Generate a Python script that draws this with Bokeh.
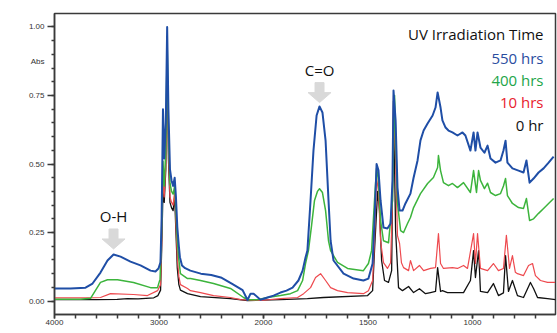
import numpy as np
from bokeh.plotting import figure
from bokeh.models import Range1d, FixedTicker, LinearAxis
from bokeh.core.properties import value
from bokeh.embed import file_html
from bokeh.resources import INLINE

# ---------------- data (wavenumber cm-1, absorbance) ----------------
wn_550 = [4000, 3847, 3703, 3636, 3560, 3493, 3435, 3368, 3273, 3177, 3081, 3034, 3005, 2986,
          2975, 2962, 2950, 2935, 2922, 2910, 2895, 2880, 2865, 2850, 2838, 2825, 2810, 2800, 2780,
          2750, 2700, 2600, 2500, 2400, 2300, 2200, 2153, 2124, 2095, 2029, 1981, 1952, 1919, 1890,
          1861, 1833, 1813, 1799, 1790, 1775, 1761, 1746, 1732, 1718, 1703, 1689, 1679, 1665, 1617,
          1569, 1522, 1498, 1478, 1469, 1459, 1450, 1440, 1426, 1407, 1392, 1383, 1378, 1368, 1359,
          1349, 1335, 1321, 1297, 1282, 1263, 1249, 1234, 1215, 1191, 1177, 1167, 1153, 1144, 1129,
          1115, 1096, 1072, 1048, 1034, 1010, 995, 986, 976, 962, 943, 928, 914, 890, 866, 852, 842,
          833, 809, 780, 756, 742, 727, 708, 684, 660, 636, 612]
ab_550 = [0.046, 0.046, 0.049, 0.064, 0.104, 0.148, 0.170, 0.162, 0.144, 0.130, 0.111, 0.108, 0.119, 0.141,
          0.30, 0.70, 0.52, 0.65, 1.00, 0.70, 0.48, 0.44, 0.42, 0.45, 0.38, 0.27, 0.20, 0.16, 0.13,
          0.12, 0.111, 0.100, 0.095, 0.085, 0.063, 0.040, 0.004, 0.027, 0.027, 0.005, 0.013, 0.020, 0.031, 0.038,
          0.049, 0.075, 0.111, 0.159, 0.184, 0.367, 0.549, 0.677, 0.710, 0.688, 0.585, 0.367, 0.220, 0.148, 0.100,
          0.082, 0.075, 0.082, 0.137, 0.294, 0.500, 0.477, 0.367, 0.268, 0.265, 0.283, 0.440, 0.768, 0.659, 0.414,
          0.330, 0.330, 0.356, 0.392, 0.450, 0.513, 0.586, 0.622, 0.648, 0.677, 0.706, 0.761, 0.706, 0.659, 0.633,
          0.622, 0.615, 0.604, 0.615, 0.604, 0.549, 0.615, 0.549, 0.615, 0.560, 0.541, 0.567, 0.520, 0.505, 0.513, 0.549, 0.585,
          0.505, 0.484, 0.476, 0.469, 0.513, 0.432, 0.447, 0.469, 0.484, 0.505, 0.527]

wn_400 = [4000, 3750, 3655, 3560, 3493, 3397, 3244, 3081, 3014, 2990,
          2975, 2962, 2950, 2935, 2922, 2910, 2895, 2880, 2865, 2850, 2838, 2825, 2810, 2795,
          2727, 2699, 2603, 2478, 2316, 2191, 2153, 2057, 1981, 1919, 1871, 1837, 1813, 1799, 1785,
          1770, 1756, 1742, 1732, 1718, 1703, 1689, 1679, 1646, 1598, 1522, 1498, 1483, 1469, 1459,
          1450, 1440, 1426, 1402, 1383, 1373, 1359, 1344, 1330, 1311, 1297, 1282, 1249, 1215, 1187,
          1167, 1163, 1153, 1139, 1115, 1096, 1072, 1043, 1010, 995, 981, 971, 962, 943, 928, 914,
          890, 866, 852, 842, 833, 809, 780, 756, 742, 727, 708, 684, 660, 636, 612]
ab_400 = [0.007, 0.007, 0.010, 0.068, 0.078, 0.078, 0.068, 0.049, 0.049, 0.080,
          0.25, 0.51, 0.42, 0.55, 0.95, 0.62, 0.43, 0.40, 0.39, 0.42, 0.33, 0.22, 0.15, 0.10,
          0.082, 0.082, 0.075, 0.064, 0.046, 0.013, 0.005, 0.005, 0.013, 0.020, 0.027, 0.038, 0.075, 0.137, 0.184,
          0.276, 0.367, 0.400, 0.410, 0.396, 0.330, 0.220, 0.184, 0.141, 0.119, 0.111, 0.137, 0.184, 0.367, 0.484,
          0.440, 0.294, 0.220, 0.213, 0.367, 0.750, 0.356, 0.257, 0.250, 0.283, 0.305, 0.341, 0.392, 0.429, 0.451,
          0.487, 0.531, 0.476, 0.432, 0.421, 0.429, 0.414, 0.432, 0.396, 0.476, 0.396, 0.476, 0.440, 0.410, 0.430, 0.396,
          0.385, 0.392, 0.420, 0.447, 0.385, 0.356, 0.341, 0.338, 0.374, 0.294, 0.300, 0.320, 0.338, 0.356, 0.374]

wn_10 = [4000, 3700, 3560, 3464, 3244, 3110, 3014, 2985,
         2975, 2962, 2950, 2935, 2922, 2910, 2895, 2880, 2865, 2850, 2838, 2825, 2810, 2795,
         2727, 2699, 2603, 2478, 2316, 2220, 2029, 1919, 1837, 1808, 1775, 1751, 1727, 1703, 1679,
         1646, 1598, 1522, 1498, 1478, 1469, 1459, 1450, 1440, 1426, 1407, 1392, 1383, 1378, 1368,
         1359, 1349, 1340, 1330, 1306, 1297, 1282, 1254, 1234, 1201, 1177, 1163, 1153, 1139, 1096,
         1072, 1043, 1024, 995, 986, 976, 962, 928, 900, 876, 852, 838, 823, 809, 795, 785, 756,
         732, 713, 699, 675, 641, 605]
ab_10 = [0.012, 0.012, 0.013, 0.027, 0.024, 0.020, 0.038, 0.060,
         0.20, 0.45, 0.38, 0.50, 0.90, 0.55, 0.38, 0.36, 0.35, 0.40, 0.28, 0.16, 0.09, 0.06,
         0.046, 0.038, 0.031, 0.020, 0.013, 0.005, 0.002, 0.009, 0.013, 0.027, 0.049, 0.086, 0.100, 0.075, 0.049,
         0.038, 0.031, 0.027, 0.038, 0.075, 0.220, 0.450, 0.400, 0.220, 0.140, 0.119, 0.140, 0.367, 0.750, 0.510,
         0.239, 0.210, 0.140, 0.122, 0.111, 0.148, 0.111, 0.130, 0.111, 0.119, 0.122, 0.246, 0.137, 0.119, 0.122,
         0.119, 0.130, 0.119, 0.246, 0.137, 0.246, 0.119, 0.111, 0.137, 0.111, 0.119, 0.240, 0.119, 0.166, 0.105, 0.100, 0.093,
         0.130, 0.137, 0.093, 0.075, 0.068, 0.068]

wn_0 = [4000, 3600, 3400, 3301, 3200, 3050, 3010, 2985,
        2975, 2962, 2950, 2935, 2922, 2910, 2895, 2880, 2865, 2850, 2838, 2825, 2810, 2795,
        2727, 2603, 2316, 2153, 1919, 1790, 1713, 1502, 1478, 1469, 1454, 1445, 1435, 1421, 1402,
        1387, 1378, 1368, 1354, 1335, 1306, 1282, 1254, 1225, 1201, 1177, 1167, 1153, 1144, 1120,
        1096, 1043, 1010, 995, 986, 971, 962, 928, 900, 876, 852, 842, 828, 809, 785, 756, 723,
        708, 689, 641, 603]
ab_0 = [0.005, 0.005, 0.006, 0.009, 0.008, 0.012, 0.020, 0.040,
        0.18, 0.40, 0.36, 0.48, 0.88, 0.52, 0.36, 0.34, 0.33, 0.38, 0.25, 0.12, 0.06, 0.04,
        0.027, 0.016, 0.009, 0.002, 0.005, 0.009, 0.013, 0.020, 0.038, 0.184, 0.400, 0.330, 0.148, 0.075, 0.068,
        0.111, 0.730, 0.257, 0.049, 0.038, 0.053, 0.031, 0.045, 0.027, 0.031, 0.035, 0.122, 0.035, 0.038, 0.031,
        0.031, 0.031, 0.075, 0.184, 0.086, 0.184, 0.035, 0.031, 0.064, 0.020, 0.030, 0.166, 0.035, 0.075, 0.020, 0.013, 0.068,
        0.046, 0.013, 0.009, 0.005]

series_labels = ["550 hrs", "400 hrs", "10 hrs", "0 hr"]
series_colors = ["#1f4ea6", "#3cb43c", "#ee4a4f", "#111111"]
text_colors = ["#2a4d9f", "#22a548", "#e8222d", "#111111"]
legend_title = "UV Irradiation Time"
x_tick_values = [4000, 3000, 2000, 1500, 1000]
y_tick_values = [0.0, 0.25, 0.50, 0.75, 1.00]
y_unit_label = "Abs"
y_unit_pos = 0.875

# axis transform: 4000-2000 at 1x, below 2000 expanded 2x (typical FTIR display)
def to_u(w):
    w = np.asarray(w, dtype=float)
    return np.where(w >= 2000, 4000 - w, 2000 + 2 * (2000 - w))

W, H = 557, 333
p = figure(width=W, height=H, output_backend="svg", toolbar_location=None,
           x_range=Range1d(0, 4794), y_range=Range1d(-0.049, 1.049),
           min_border_left=54, min_border_right=2, min_border_top=13, min_border_bottom=19)
p.background_fill_color = "white"
p.border_fill_color = "white"
p.grid.visible = False
p.outline_line_color = "#3a3a3a"
p.outline_line_width = 1.5

AX = "#3a3a3a"
# x axis
xa = p.xaxis[0]
xa.ticker = FixedTicker(ticks=[float(v) for v in to_u(x_tick_values)],
                        minor_ticks=list(range(0, 4801, 200)))
xa.major_label_overrides = {float(u): str(w) for u, w in zip(to_u(x_tick_values), x_tick_values)}
xa.major_tick_out = 4
xa.major_tick_in = 0
xa.minor_tick_out = 4
xa.minor_tick_in = 0
xa.major_label_standoff = 1

# inner y axis: line + ticks only
ya = p.yaxis[0]
ya.ticker = FixedTicker(ticks=y_tick_values, minor_ticks=[round(-0.05 + 0.05 * i, 2) for i in range(23)])
ya.major_label_overrides = {v: "" for v in y_tick_values}
ya.major_tick_out = 7
ya.major_tick_in = 0
ya.minor_tick_out = 3
ya.minor_tick_in = 0
ya.major_label_standoff = 0

# outer y axis: labels only (incl. the "Abs" unit label)
ya2 = LinearAxis(ticker=FixedTicker(ticks=y_tick_values + [y_unit_pos], minor_ticks=[]),
                 major_label_overrides={**{v: f"{v:.2f}" for v in y_tick_values}, y_unit_pos: y_unit_label},
                 axis_line_alpha=0, major_tick_line_alpha=0, minor_tick_line_alpha=0,
                 major_tick_out=0, major_tick_in=0, minor_tick_out=0, minor_tick_in=0,
                 major_label_standoff=3)
p.add_layout(ya2, "left")

for ax in (xa, ya):
    ax.axis_line_color = AX
    ax.axis_line_width = 1.5
    ax.major_tick_line_color = AX
    ax.minor_tick_line_color = AX
    ax.major_tick_line_width = 1.5
    ax.minor_tick_line_width = 1.5
for ax in (xa, ya, ya2):
    ax.major_label_text_font = "Liberation Sans"
    ax.major_label_text_font_size = "8px"
    ax.major_label_text_color = "#333333"

# curves (bottom to top)
data = [(wn_0, ab_0, 3, 1.3), (wn_10, ab_10, 2, 1.2), (wn_400, ab_400, 1, 1.5), (wn_550, ab_550, 0, 2.0)]
for wn, ab, idx, lw in data:
    p.line(to_u(wn), ab, line_color=series_colors[idx], line_width=lw, line_join="round")

# peak annotations with grey block arrows
px_u = 1 / 0.1045   # data units per pixel (x)
px_a = 1 / 274.0     # data units per pixel (y)
arrow_shape = [(-4.5, 20), (4.5, 20), (4.5, 10), (11.5, 10), (0, 0), (-11.5, 10), (-4.5, 10)]
annot_names = ["O-H", "C=O"]
annot_wn = [3435, 1732]
annot_tip = [0.190, 0.724]
for name, wn, tip in zip(annot_names, annot_wn, annot_tip):
    u0 = float(to_u([wn])[0])
    xs = [u0 + dx * px_u for dx, dy in arrow_shape]
    ys = [tip + dy * px_a for dx, dy in arrow_shape]
    p.patch(xs, ys, fill_color="#d9d9d9", line_color="#d9d9d9")
    p.text(x=[u0], y=[tip + 33 * px_a], text=[name], text_font=value("Open Sans"),
           text_font_size="15px", text_color="#111111", text_align="center", text_baseline="middle")

# legend-like text block
u_leg = 4679
p.text(x=[u_leg], y=[0.973], text=[legend_title], text_font=value("Open Sans"), text_font_size="15px",
       text_color="#111111", text_align="right", text_baseline="middle")
leg_y = [0.887, 0.808, 0.7245, 0.6405]
for lab, col, yy in zip(series_labels, text_colors, leg_y):
    p.text(x=[u_leg], y=[yy], text=[lab], text_font=value("Open Sans"), text_font_size="15px",
           text_color=col, text_align="right", text_baseline="middle")

open("out.html", "w").write(file_html(p, INLINE))
